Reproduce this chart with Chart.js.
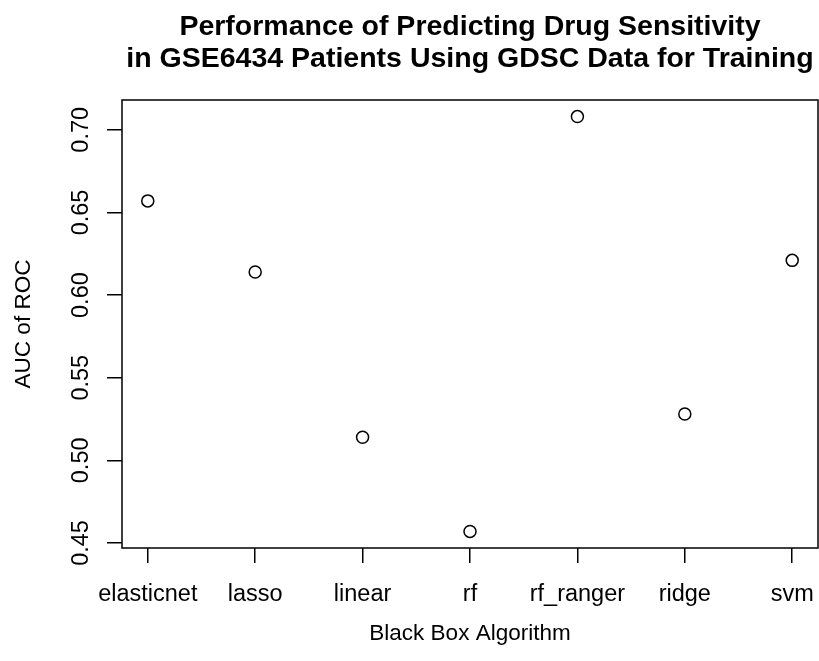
<!DOCTYPE html>
<html>
<head>
<meta charset="utf-8">
<script src="https://cdn.jsdelivr.net/npm/chart.js@4/dist/chart.umd.min.js"></script>
<style>
  html, body { margin: 0; padding: 0; background: #fff; overflow: hidden; }
  #wrap { width: 819px; height: 661px; position: relative; }
</style>
</head>
<body>
<div id="wrap"><canvas id="c"></canvas></div>
<script>
// ── Data ──────────────────────────────────────────────────
const ALGORITHMS = ['elasticnet', 'lasso', 'linear', 'rf', 'rf_ranger', 'ridge', 'svm'];
const AUC_VALUES = [0.657, 0.614, 0.514, 0.457, 0.708, 0.528, 0.621];
const Y_TICKS    = [0.45, 0.50, 0.55, 0.60, 0.65, 0.70];

const TITLE_LINES = [
  'Performance of Predicting Drug Sensitivity',
  'in GSE6434 Patients Using GDSC Data for Training',
];
const X_TITLE = 'Black Box Algorithm';
const Y_TITLE = 'AUC of ROC';

const FONT = "'Liberation Sans', Arial, Helvetica, sans-serif";

// R-style 4% range extension
const yLo = Math.min(...AUC_VALUES), yHi = Math.max(...AUC_VALUES);
const yPad = (yHi - yLo) * 0.04;
const xPad = (ALGORITHMS.length - 1) * 0.04;

// ── Box, titles and labels drawn the base-graphics way ────
const rDecor = {
  id: 'rDecor',
  afterDraw(chart) {
    const { ctx, chartArea: a, scales } = chart;
    ctx.save();
    ctx.strokeStyle = '#000';
    ctx.lineWidth = 1.5;
    ctx.strokeRect(a.left, a.top, a.right - a.left, a.bottom - a.top);

    ctx.fillStyle = '#000';
    const cx = (a.left + a.right) / 2;

    // main title
    ctx.font = `bold 28.5px ${FONT}`;
    ctx.textAlign = 'center';
    ctx.textBaseline = 'alphabetic';
    ctx.fillText(TITLE_LINES[0], cx, 35);
    ctx.fillText(TITLE_LINES[1], cx, 67);

    // x tick labels
    ctx.font = `23.5px ${FONT}`;
    scales.x.ticks.forEach(t => {
      ctx.fillText(ALGORITHMS[t.value - 1], scales.x.getPixelForValue(t.value), 601);
    });

    // y tick labels (rotated, like las = 0)
    scales.y.ticks.forEach(t => {
      ctx.save();
      ctx.translate(88, scales.y.getPixelForValue(t.value));
      ctx.rotate(-Math.PI / 2);
      ctx.fillText(t.value.toFixed(2), 0, 0);
      ctx.restore();
    });

    // axis titles
    ctx.font = `22.5px ${FONT}`;
    ctx.fillText(X_TITLE, cx, 640);

    ctx.save();
    ctx.translate(30, (a.top + a.bottom) / 2);
    ctx.rotate(-Math.PI / 2);
    ctx.fillText(Y_TITLE, 0, 0);
    ctx.restore();

    ctx.restore();
  },
};

const TICK_GRID = {
  display: true, drawOnChartArea: false, drawTicks: true,
  tickLength: 15, color: '#000', lineWidth: 1.5,
};

new Chart(document.getElementById('c'), {
  type: 'scatter',
  data: {
    datasets: [{
      data: AUC_VALUES.map((v, i) => ({ x: i + 1, y: v })),
      pointStyle: 'circle',
      pointRadius: 6,
      pointBorderWidth: 1.5,
      borderColor: '#000',
      backgroundColor: 'rgba(0,0,0,0)',
    }],
  },
  options: {
    responsive: true,
    maintainAspectRatio: false,
    animation: false,
    events: [],
    layout: { autoPadding: false, padding: { top: 100, right: 1, left: 0, bottom: 0 } },
    plugins: { legend: { display: false }, tooltip: { enabled: false }, title: { display: false } },
    scales: {
      x: {
        type: 'linear',
        min: 1 - xPad, max: ALGORITHMS.length + xPad,
        afterBuildTicks: s => { s.ticks = ALGORITHMS.map((_, i) => ({ value: i + 1 })); },
        afterFit: s => { s.height = 113; },
        grid: TICK_GRID,
        border: { display: false },
        ticks: { display: false },
      },
      y: {
        type: 'linear',
        min: yLo - yPad, max: yHi + yPad,
        afterBuildTicks: s => { s.ticks = Y_TICKS.map(v => ({ value: v })); },
        afterFit: s => { s.width = 122; },
        grid: TICK_GRID,
        border: { display: false },
        ticks: { display: false },
      },
    },
  },
  plugins: [rDecor],
});
</script>
</body>
</html>
